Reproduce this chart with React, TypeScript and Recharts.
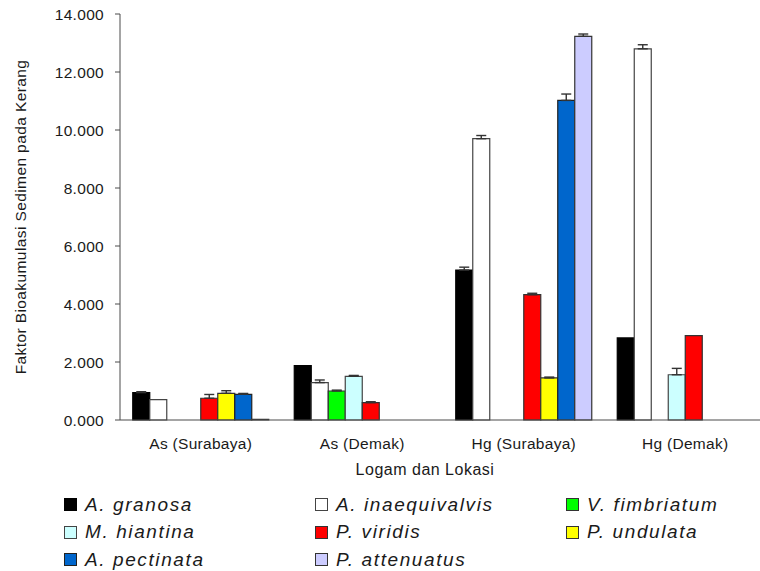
import React from 'react';
import { BarChart, Bar, XAxis, YAxis, ErrorBar, Legend } from 'recharts';

const categories = ['As (Surabaya)', 'As (Demak)', 'Hg (Surabaya)', 'Hg (Demak)'];
const yTicks = [0, 2, 4, 6, 8, 10, 12, 14];
const edgeTicks = [0, 1, 2, 3, 4];

// one value per location, null where the species was not sampled
const granosa = [0.945, 1.876, 5.17, 2.83];
const inaequivalvis = [0.7, 1.29, 9.7, 12.8];
const fimbriatum = [null, 1.0, null, null];
const hiantina = [null, 1.507, null, 1.56];
const viridis = [0.75, 0.6, 4.32, 2.91];
const undulata = [0.92, null, 1.45, null];
const pectinata = [0.886, null, 11.02, null];
const attenuatus = [0.02, null, 13.23, null];

// upper error (standard deviation)
const granosaErr = [0.03, null, 0.1, null];
const inaequivalvisErr = [null, 0.09, 0.11, 0.14];
const fimbriatumErr = [null, 0.03, null, null];
const hiantinaErr = [null, 0.03, null, 0.22];
const viridisErr = [0.13, 0.03, 0.05, null];
const undulataErr = [0.09, null, 0.03, null];
const pectinataErr = [0.03, null, 0.22, null];
const attenuatusErr = [null, null, 0.08, null];

const series = [
  { name: 'A. granosa', color: '#000000', stroke: '#000000', values: granosa, errors: granosaErr },
  { name: 'A. inaequivalvis', color: '#ffffff', stroke: '#444444', values: inaequivalvis, errors: inaequivalvisErr },
  { name: 'V. fimbriatum', color: '#00ff00', stroke: '#333333', values: fimbriatum, errors: fimbriatumErr },
  { name: 'M. hiantina', color: '#ccffff', stroke: '#444444', values: hiantina, errors: hiantinaErr },
  { name: 'P. viridis', color: '#ff0000', stroke: '#333333', values: viridis, errors: viridisErr },
  { name: 'P. undulata', color: '#ffff00', stroke: '#333333', values: undulata, errors: undulataErr },
  { name: 'A. pectinata', color: '#0066cc', stroke: '#222222', values: pectinata, errors: pectinataErr },
  { name: 'P. attenuatus', color: '#ccccff', stroke: '#333333', values: attenuatus, errors: attenuatusErr },
];

const data = categories.map((name, i) => {
  const row: Record<string, any> = { name };
  series.forEach((s, j) => {
    row[`v${j}`] = s.values[i];
    const e = s.errors[i];
    row[`e${j}`] = e != null ? [0, e] : undefined;
  });
  return row;
});

const font = '"Liberation Sans", Arial, Helvetica, sans-serif';
const axisColor = '#4a4a4a';
const textColor = '#1a1a1a';

const renderLegend = () => (
  <div
    style={{
      display: 'grid',
      gridTemplateColumns: '251px 251px 251px',
      gridAutoRows: '27.5px',
      paddingLeft: 64,
      fontFamily: font,
      fontStyle: 'italic',
      fontSize: 19,
      letterSpacing: 1.6,
      color: textColor,
    }}
  >
    {series.map((s) => (
      <div key={s.name} style={{ display: 'flex', alignItems: 'center', whiteSpace: 'nowrap' }}>
        <span
          style={{
            width: 11,
            height: 11,
            border: `1px solid ${s.stroke}`,
            background: s.color,
            marginRight: 8,
            flex: 'none',
          }}
        />
        {s.name}
      </div>
    ))}
  </div>
);

export default function App() {
  return (
    <div
      style={{
        position: 'absolute',
        left: 0,
        top: 0,
        width: 760,
        height: 571,
        overflow: 'hidden',
        background: '#fff',
      }}
    >
      <BarChart
        width={780}
        height={571}
        data={data}
        margin={{ top: 14, right: 14, left: 0, bottom: 95 }}
        barCategoryGap="7.9%"
        barGap={0}
        style={{ fontFamily: font }}
      >
        <XAxis
          xAxisId="edge"
          type="number"
          domain={[0, 4]}
          ticks={edgeTicks}
          tick={false}
          axisLine={false}
          tickSize={4}
          height={0}
          stroke={axisColor}
        />
        <XAxis
          xAxisId="cat"
          dataKey="name"
          height={56}
          tickLine={false}
          tickSize={4}
          tickMargin={14}
          stroke={axisColor}
          tick={{ fontSize: 15.5, fill: textColor, letterSpacing: 0.3 }}
          label={{
            value: 'Logam dan Lokasi',
            position: 'insideBottom',
            offset: 1,
            dx: -18,
            fontSize: 16,
            fill: textColor,
            letterSpacing: 0.5,
          }}
        />
        <YAxis
          width={120}
          domain={[0, 14]}
          ticks={yTicks}
          tickFormatter={(v: number) => v.toFixed(3)}
          tickSize={5}
          tickMargin={11}
          stroke={axisColor}
          tick={{ fontSize: 15.5, fill: textColor, letterSpacing: 0.3 }}
          label={{
            value: 'Faktor Bioakumulasi Sedimen pada Kerang',
            angle: -90,
            position: 'insideLeft',
            offset: 20,
            style: { textAnchor: 'middle' },
            fontSize: 15.5,
            fill: textColor,
            letterSpacing: 0.4,
          }}
        />
        <Legend
          layout="horizontal"
          verticalAlign="middle"
          align="center"
          content={renderLegend}
          wrapperStyle={{ left: 0, top: 491, width: 760, margin: 0 }}
        />
        {series.map((s, j) => (
          <Bar
            key={s.name}
            xAxisId="cat"
            dataKey={`v${j}`}
            name={s.name}
            fill={s.color}
            stroke={s.stroke}
            strokeWidth={1.2}
            isAnimationActive={false}
          >
            <ErrorBar dataKey={`e${j}`} direction="y" width={5} stroke="#333333" strokeWidth={1.4} />
          </Bar>
        ))}
      </BarChart>
    </div>
  );
}
